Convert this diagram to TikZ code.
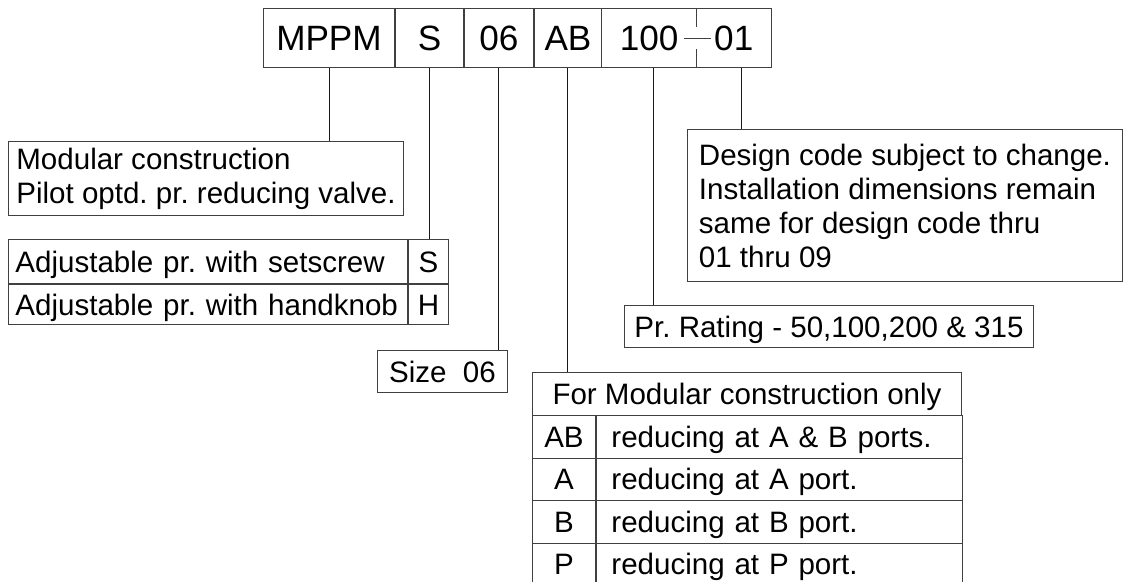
\documentclass[tikz,border=0pt]{standalone}
\usepackage{fontspec}
\setmainfont{Liberation Sans}
\usetikzlibrary{positioning, calc}

\newcommand{\pxu}{0.025cm}
\newcommand{\codesize}{\fontsize{25}{30}\selectfont}
\newcommand{\notesize}{\fontsize{21}{24.2}\selectfont\frenchspacing}

\tikzset{
    frame/.style={draw=black!75, line width=0.7pt},
    leader/.style={draw=black!90, line width=0.7pt},
    code/.style={inner sep=0pt, minimum height=59*\pxu, text height=17.9pt, text depth=0pt, font=\codesize},
    cell/.style={frame, inner sep=0pt, text height=15pt, text depth=0pt, font=\notesize},
    note/.style={frame, inner sep=0pt, align=left, font=\notesize, anchor=north west}
}

\begin{document}
\begin{tikzpicture}[x=\pxu, y=-\pxu]
    \useasboundingbox (0,0) rectangle (1126,581);

    % ordering code
    \node[code, frame, minimum width=131*\pxu, anchor=north west] (cMPPM) at (263,8) {MPPM};
    \node[code, frame, minimum width=68*\pxu, right=0pt of cMPPM] (cS) {S};
    \node[code, frame, minimum width=69*\pxu, right=0pt of cS] (c06) {06};
    \node[code, frame, minimum width=67*\pxu, right=0pt of c06] (cAB) {AB};
    \node[code, minimum width=94*\pxu, right=0pt of cAB] (c100) {100};
    \node[code, minimum width=74*\pxu, right=0pt of c100] (c01) {01};
    \draw[frame] (c100.north west) rectangle (c01.south east);
    \draw[frame] (c100.north east) -- ++(0,19);
    \draw[frame] (c100.south east) -- ++(0,-19);
    \draw[frame] ([xshift=-13*\pxu]c100.east) -- ([xshift=14*\pxu]c100.east);

    % descriptions
    \node[note, minimum width=395*\pxu, minimum height=74*\pxu] (modular) at (8,141)
        {Modular construction\\Pilot optd. pr. reducing valve.};

    \node[cell, align=left, text width=385*\pxu, inner xsep=7*\pxu, minimum height=44*\pxu, anchor=north west] (adjset) at (8,239) {Adjustable pr. with setscrew};
    \node[cell, minimum width=40*\pxu, minimum height=44*\pxu, right=0pt of adjset] (keyS) {S};
    \node[cell, align=left, text width=385*\pxu, inner xsep=7*\pxu, minimum height=40*\pxu, below=0pt of adjset] (adjknob) {Adjustable pr. with handknob};
    \node[cell, minimum width=40*\pxu, minimum height=40*\pxu, right=0pt of adjknob] (keyH) {H};

    \node[cell, minimum width=130*\pxu, minimum height=42*\pxu, anchor=north west] (size) at (377,350) {Size\ \ 06};

    \node[cell, minimum width=409*\pxu, minimum height=42*\pxu, anchor=north west] (rating) at (624,305) {Pr. Rating - 50,100,200 \& 315};

    \node[note, minimum width=435*\pxu, minimum height=152*\pxu] (design) at (687,129)
        {Design code subject to change.\\Installation dimensions remain\\same for design code thru\\01 thru 09};

    % port table
    \node[cell, minimum width=429*\pxu, minimum height=43*\pxu, anchor=north west] (ports) at (532,372) {For Modular construction only};
    \foreach \k/\t [count=\i] in {AB/reducing at A \& B ports., A/reducing at A port., B/reducing at B port., P/reducing at P port.}{
        \node[cell, minimum width=63*\pxu, minimum height=42.5*\pxu, anchor=north west] (port\i) at (532,{415+42.5*(\i-1)}) {\k};
        \node[cell, align=left, text width=336*\pxu, inner xsep=15*\pxu, minimum height=42.5*\pxu, right=0pt of port\i] (portdesc\i) {\t};
    }

    % leaders
    \draw[leader] (cMPPM.south) -- (cMPPM.south |- modular.north);
    \draw[leader] (cS.south) -- (cS.south |- keyS.north);
    \draw[leader] (c06.south) -- (c06.south |- size.north);
    \draw[leader] (cAB.south) -- (cAB.south |- ports.north);
    \coordinate (t100) at ($(c100.south)+(4,0)$);
    \draw[leader] (t100) -- (t100 |- rating.north);
    \coordinate (t01) at ($(c01.south)+(8,0)$);
    \draw[leader] (t01) -- (t01 |- design.north);
\end{tikzpicture}
\end{document}
